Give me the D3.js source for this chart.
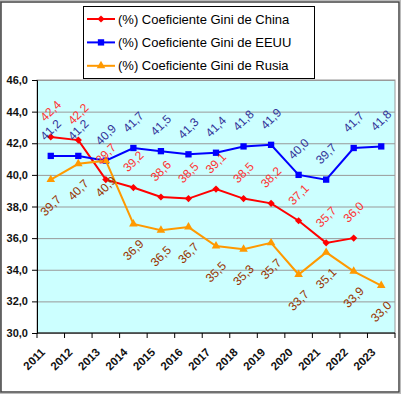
<!DOCTYPE html>
<html>
<head>
<meta charset="utf-8">
<script src="https://cdn.jsdelivr.net/npm/d3@7"></script>
<style>
  body { margin: 0; background: #fff; }
  svg text { font-family: "Liberation Sans", Arial, sans-serif; }
</style>
</head>
<body>
<div class="graph"></div>
<script>
// data
var years = ["2011", "2012", "2013", "2014", "2015", "2016", "2017", "2018", "2019", "2020", "2021", "2022", "2023"];
var china = [42.4, 42.2, 39.7, 39.2, 38.6, 38.5, 39.1, 38.5, 38.2, 37.1, 35.7, 36.0, null];
var eeuu = [41.2, 41.2, 40.9, 41.7, 41.5, 41.3, 41.4, 41.8, 41.9, 40.0, 39.7, 41.7, 41.8];
var rusia = [39.7, 40.7, 40.9, 36.9, 36.5, 36.7, 35.5, 35.3, 35.7, 33.7, 35.1, 33.9, 33.0];
var yTicks = [30, 32, 34, 36, 38, 40, 42, 44, 46];
var seriesNames = ["(%) Coeficiente Gini de China", "(%) Coeficiente Gini de EEUU", "(%) Coeficiente Gini de Rusia"];

var W = 401, H = 394;
var plot = { left: 37, right: 395, top: 80, bottom: 333 };

var fmt = function (v) { return d3.format(".1f")(v).replace(".", ","); };

var series = [
    { name: seriesNames[0], data: china, color: "#ff0000", label: "#ff3333", sym: "diamond", pos: -1 },
    { name: seriesNames[1], data: eeuu, color: "#0000ff", label: "#333399", sym: "square", pos: -1 },
    { name: seriesNames[2], data: rusia, color: "#ff9900", label: "#993300", sym: "triangle", pos: 1 }
];

var svg = d3.select(".graph").append("svg")
    .attr("width", W)
    .attr("height", H);

// outer frame
svg.append("rect")
    .attr("x", 0.5).attr("y", 0.5)
    .attr("width", W - 1).attr("height", H - 1)
    .attr("fill", "#fff").attr("stroke", "#bbb");
svg.append("path")
    .attr("d", "M1,2H399V392H1Z")
    .attr("fill", "none").attr("stroke", "#444").attr("stroke-width", 1.5);

var x = d3.scaleBand()
    .domain(years)
    .range([plot.left, plot.right]);

var y = d3.scaleLinear()
    .domain([30, 46])
    .range([plot.bottom, plot.top]);

var cx = function (i) { return x(years[i]) + x.bandwidth() / 2; };

// plot area
svg.append("rect")
    .attr("x", plot.left).attr("y", plot.top)
    .attr("width", plot.right - plot.left).attr("height", plot.bottom - plot.top)
    .attr("fill", "#ccffff")
    .attr("stroke", "#999");

// gridlines
svg.append("g")
    .attr("transform", "translate(" + plot.left + ",0)")
    .call(d3.axisLeft(y).tickValues(yTicks).tickFormat("").tickSize(-(plot.right - plot.left)))
    .call(function (g) {
        g.select(".domain").remove();
        g.selectAll(".tick line").attr("stroke", "#999");
    });

// y axis
svg.append("g")
    .attr("transform", "translate(" + plot.left + ",0)")
    .call(d3.axisLeft(y).tickValues(yTicks).tickFormat(fmt).tickSize(5).tickPadding(4))
    .call(function (g) {
        g.select(".domain").attr("stroke", "#000");
        g.selectAll(".tick line").attr("stroke", "#000");
        g.selectAll("text")
            .attr("fill", "#111")
            .style("font-size", "11px")
            .style("font-weight", "bold");
    });

// x axis: line, ticks on band boundaries, rotated labels
var xg = svg.append("g");
xg.append("line")
    .attr("x1", plot.left).attr("x2", plot.right)
    .attr("y1", plot.bottom).attr("y2", plot.bottom)
    .attr("stroke", "#000");
xg.selectAll(".xt")
    .data(years.concat(["end"]))
    .enter().append("line")
    .attr("x1", function (d, i) { return i < years.length ? x(d) : plot.right; })
    .attr("x2", function (d, i) { return i < years.length ? x(d) : plot.right; })
    .attr("y1", plot.bottom).attr("y2", plot.bottom + 5)
    .attr("stroke", "#000");
xg.selectAll(".xl")
    .data(years)
    .enter().append("text")
    .attr("transform", function (d, i) { return "translate(" + (cx(i) - 5) + "," + (plot.bottom + 20) + ") rotate(-45)"; })
    .attr("text-anchor", "end")
    .style("font-size", "11.5px")
    .style("font-weight", "bold")
    .attr("fill", "#111")
    .text(function (d) { return d; });

function symbolPath(kind) {
    if (kind === "square") return d3.symbol(d3.symbolSquare, 40)();
    if (kind === "triangle") return d3.symbol(d3.symbolTriangle, 32)();
    return d3.symbol(d3.symbolSquare, 26)();
}

var line = d3.line()
    .defined(function (d) { return d != null; })
    .x(function (d, i) { return cx(i); })
    .y(function (d) { return y(d); });

series.forEach(function (s) {
    var g = svg.append("g");
    g.append("path")
        .datum(s.data)
        .attr("d", line)
        .attr("fill", "none")
        .attr("stroke", s.color)
        .attr("stroke-width", 2);
    g.selectAll(".pt")
        .data(s.data)
        .enter().filter(function (d) { return d != null; })
        .append("path")
        .attr("d", symbolPath(s.sym))
        .attr("transform", function (d, i) {
            return "translate(" + cx(i) + "," + y(d) + ")" + (s.sym === "diamond" ? " rotate(45)" : "");
        })
        .attr("fill", s.color);
});

// data labels, rotated
series.forEach(function (s) {
    svg.append("g").selectAll("text")
        .data(s.data)
        .enter().filter(function (d) { return d != null; })
        .append("text")
        .attr("transform", function (d, i) {
            return "translate(" + cx(i) + "," + (y(d) + s.pos * 26) + ") rotate(-45)";
        })
        .attr("text-anchor", "middle")
        .attr("dominant-baseline", "central")
        .style("font-size", "12px")
        .attr("fill", s.label)
        .text(function (d) { return fmt(d); });
});

// legend
var lg = svg.append("g");
lg.append("rect")
    .attr("x", 83.5).attr("y", 6.5)
    .attr("width", 231).attr("height", 72)
    .attr("fill", "#fff")
    .attr("stroke", "#000");
series.forEach(function (s, i) {
    var ly = 19 + i * 23.4;
    lg.append("line")
        .attr("x1", 87).attr("x2", 115)
        .attr("y1", ly).attr("y2", ly)
        .attr("stroke", s.color).attr("stroke-width", 2);
    lg.append("path")
        .attr("d", symbolPath(s.sym))
        .attr("transform", "translate(101," + ly + ")" + (s.sym === "diamond" ? " rotate(45)" : ""))
        .attr("fill", s.color);
    lg.append("text")
        .attr("x", 118).attr("y", ly)
        .attr("dominant-baseline", "central")
        .style("font-size", "13px")
        .attr("fill", "#000")
        .text(s.name);
});
</script>
</body>
</html>
